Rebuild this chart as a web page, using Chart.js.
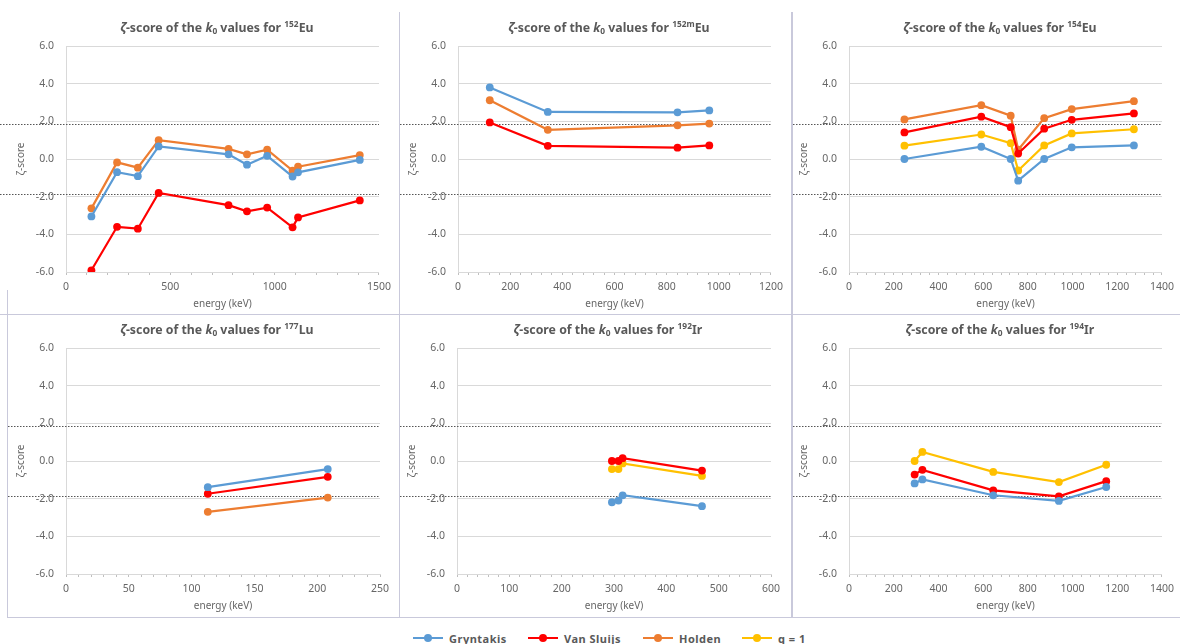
<!DOCTYPE html>
<html>
<head>
<meta charset="utf-8">
<script src="https://cdn.jsdelivr.net/npm/chart.js@4.4.1/dist/chart.umd.min.js"></script>
<style>
  html, body { margin: 0; padding: 0; background: #fff; }
  body { width: 1180px; height: 644px; position: relative; overflow: hidden; font-family: "Noto Sans", sans-serif; }
  .panel { position: absolute; width: 397px; height: 312px; }
  .panel canvas { position: absolute; left: 0; top: 0; }
  .ttl { position: absolute; left: 0; width: 434px; top: 20px; text-align: center; font-weight: bold; font-size: 12.3px; color: #595959; white-space: nowrap; line-height: 16px; }
  .ttl sub, .ttl sup { font-size: 68%; line-height: 0; }
  .ttl sub { vertical-align: -0.25em; }
  .ttl sup { vertical-align: 0.55em; }
  .rule { position: absolute; background: #c9c9db; }
  #legend { position: absolute; top: 630px; left: 0; width: 1180px; height: 16px; }
  #legend .item { position: absolute; top: 0; height: 16px; display: flex; align-items: center; }
  #legend .icon { position: relative; width: 30px; height: 16px; margin-right: 6px; }
  #legend .icon .ln { position: absolute; left: 0; top: 7px; width: 30px; height: 2px; }
  #legend .icon .dot { position: absolute; left: 11px; top: 4px; width: 8px; height: 8px; border-radius: 50%; }
  #legend .txt { font-weight: bold; font-size: 11px; color: #595959; letter-spacing: 0.5px; }
</style>
</head>
<body>

<div class="rule" style="left:398.5px; top:12px; width:1.5px; height:605px;"></div>
<div class="rule" style="left:791px; top:12px; width:1.5px; height:605px;"></div>
<div class="rule" style="left:0; top:313.5px; width:1180px; height:1.5px;"></div>
<div class="rule" style="left:7px; top:616.5px; width:1173px; height:1.5px;"></div>
<div class="rule" style="left:6.5px; top:290px; width:1.5px; height:328px;"></div>

<div class="panel" style="left:0px; top:0px;">
  <canvas id="c1" width="397" height="312"></canvas>
  <div class="ttl"><i>ζ</i>-score of the <i>k</i><sub>0</sub> values for <sup>152</sup>Eu</div>
</div>
<div class="panel" style="left:392px; top:0px;">
  <canvas id="c2" width="397" height="312"></canvas>
  <div class="ttl"><i>ζ</i>-score of the <i>k</i><sub>0</sub> values for <sup>152m</sup>Eu</div>
</div>
<div class="panel" style="left:783px; top:0px;">
  <canvas id="c3" width="397" height="312"></canvas>
  <div class="ttl"><i>ζ</i>-score of the <i>k</i><sub>0</sub> values for <sup>154</sup>Eu</div>
</div>
<div class="panel" style="left:0px; top:302px;">
  <canvas id="c4" width="397" height="312"></canvas>
  <div class="ttl"><i>ζ</i>-score of the <i>k</i><sub>0</sub> values for <sup>177</sup>Lu</div>
</div>
<div class="panel" style="left:391px; top:302px;">
  <canvas id="c5" width="397" height="312"></canvas>
  <div class="ttl"><i>ζ</i>-score of the <i>k</i><sub>0</sub> values for <sup>192</sup>Ir</div>
</div>
<div class="panel" style="left:783px; top:302px;">
  <canvas id="c6" width="397" height="312"></canvas>
  <div class="ttl"><i>ζ</i>-score of the <i>k</i><sub>0</sub> values for <sup>194</sup>Ir</div>
</div>

<div id="legend"></div>

<script>
// zeta-score acceptance band (dotted lines)
const zetaLimits = [1.86, -1.86];

// 152Eu
const eu152Energy    = [121.8, 244.7, 344.3, 444.0, 778.9, 867.4, 964.1, 1085.8, 1112.1, 1408.0];
const eu152Gryntakis = [-3.05, -0.70, -0.91, 0.67, 0.25, -0.30, 0.17, -0.93, -0.71, -0.05];
const eu152VanSluijs = [-5.91, -3.60, -3.70, -1.80, -2.45, -2.78, -2.58, -3.63, -3.10, -2.20];
const eu152Holden    = [-2.62, -0.18, -0.46, 1.00, 0.54, 0.25, 0.49, -0.62, -0.41, 0.21];

// 152mEu
const eu152mEnergy    = [121.8, 344.3, 841.6, 963.4];
const eu152mGryntakis = [3.80, 2.50, 2.48, 2.58];
const eu152mVanSluijs = [1.94, 0.70, 0.60, 0.72];
const eu152mHolden    = [3.12, 1.55, 1.79, 1.88];

// 154Eu
const eu154Energy    = [247.9, 591.8, 723.3, 756.8, 873.2, 996.3, 1274.4];
const eu154Gryntakis = [0.00, 0.65, 0.00, -1.15, 0.00, 0.62, 0.72];
const eu154VanSluijs = [1.41, 2.25, 1.69, 0.29, 1.61, 2.08, 2.42];
const eu154Holden    = [2.10, 2.86, 2.30, 0.49, 2.17, 2.65, 3.07];
const eu154Q1        = [0.71, 1.30, 0.84, -0.61, 0.72, 1.36, 1.58];

// 177Lu
const lu177Energy    = [112.9, 208.4];
const lu177Gryntakis = [-1.39, -0.43];
const lu177VanSluijs = [-1.74, -0.84];
const lu177Holden    = [-2.70, -1.94];

// 192Ir
const ir192Energy    = [296.0, 308.5, 316.5, 468.1];
const ir192Gryntakis = [-2.19, -2.10, -1.82, -2.40];
const ir192VanSluijs = [0.00, 0.00, 0.15, -0.51];
const ir192Q1        = [-0.43, -0.43, -0.13, -0.79];

// 194Ir
const ir194Energy    = [293.5, 328.4, 645.2, 938.7, 1150.6];
const ir194Gryntakis = [-1.19, -0.98, -1.82, -2.12, -1.38];
const ir194VanSluijs = [-0.72, -0.47, -1.56, -1.88, -1.07];
const ir194Q1        = [0.00, 0.48, -0.58, -1.12, -0.20];

const series = {
  gryntakis: { label: 'Gryntakis', color: '#5b9bd5' },
  vanSluijs: { label: 'Van Sluijs', color: '#ff0000' },
  holden:    { label: 'Holden',     color: '#ed7d31' },
  q1:        { label: 'q = 1',      color: '#ffc000' },
};

const panels = [
  { id: 'c1', xMax: 1500, xStep: 500, lineStart: 0,  energy: eu152Energy,
    data: { gryntakis: eu152Gryntakis, vanSluijs: eu152VanSluijs, holden: eu152Holden } },
  { id: 'c2', xMax: 1200, xStep: 200, lineStart: 8,  energy: eu152mEnergy,
    data: { gryntakis: eu152mGryntakis, vanSluijs: eu152mVanSluijs, holden: eu152mHolden } },
  { id: 'c3', xMax: 1400, xStep: 200, lineStart: 10, energy: eu154Energy,
    data: { gryntakis: eu154Gryntakis, vanSluijs: eu154VanSluijs, holden: eu154Holden, q1: eu154Q1 } },
  { id: 'c4', xMax: 250, xStep: 50, lineStart: 8, energy: lu177Energy,
    data: { gryntakis: lu177Gryntakis, vanSluijs: lu177VanSluijs, holden: lu177Holden } },
  { id: 'c5', xMax: 600, xStep: 100, lineStart: 9, energy: ir192Energy,
    data: { gryntakis: ir192Gryntakis, vanSluijs: ir192VanSluijs, q1: ir192Q1 } },
  { id: 'c6', xMax: 1400, xStep: 200, lineStart: 10, energy: ir194Energy,
    data: { gryntakis: ir194Gryntakis, vanSluijs: ir194VanSluijs, q1: ir194Q1 } },
];

// dotted +/- limit lines, running from the panel edge to the right end of the plot
const limitLines = {
  id: 'limitLines',
  beforeDatasetsDraw(chart, args, opts) {
    const { ctx, chartArea, scales: { y } } = chart;
    ctx.save();
    ctx.strokeStyle = '#555555';
    ctx.lineWidth = 1;
    ctx.setLineDash([1.5, 1.5]);
    zetaLimits.forEach((v) => {
      const py = Math.round(y.getPixelForValue(v)) + 0.5;
      ctx.beginPath();
      ctx.moveTo(opts.start || 0, py);
      ctx.lineTo(chartArea.right, py);
      ctx.stroke();
    });
    ctx.restore();
  }
};

const gray = '#666666';

function makePanel(p) {
  const datasets = Object.keys(p.data).map((key) => {
    const s = series[key];
    return {
      label: s.label,
      data: p.energy.map((e, i) => ({ x: e, y: p.data[key][i] })),
      borderColor: s.color,
      backgroundColor: s.color,
      borderWidth: 2.2,
      pointRadius: 3.9,
      pointBorderWidth: 0,
      tension: 0,
    };
  });
  return new Chart(document.getElementById(p.id).getContext('2d'), {
    type: 'line',
    data: { datasets },
    plugins: [limitLines],
    options: {
      animation: false,
      responsive: false,
      devicePixelRatio: 1,
      layout: { padding: { top: 46, right: 17, left: 0, bottom: 0 } },
      scales: {
        x: {
          type: 'linear', min: 0, max: p.xMax,
          grid: { drawOnChartArea: false, drawTicks: true, tickLength: 3, color: '#bfbfbf' },
          border: { color: '#d9d9d9', width: 1 },
          ticks: {
            stepSize: p.xStep / 5, autoSkip: false, maxRotation: 0, padding: 6,
            color: gray, font: { size: 10.5, family: 'Noto Sans' },
            callback: (v) => (v % p.xStep === 0 ? String(v) : ''),
          },
          title: { display: true, text: 'energy (keV)', color: gray, font: { size: 10, family: 'Noto Sans' }, padding: { top: 0, bottom: 2 } },
          afterFit: (s) => { s.height = 40; },
        },
        y: {
          min: -6, max: 6,
          grid: { color: '#d9d9d9', drawTicks: false },
          border: { color: '#d9d9d9', width: 1 },
          ticks: {
            stepSize: 2, padding: 12, color: gray, font: { size: 10.5, family: 'Noto Sans' },
            callback: (v) => v.toFixed(1),
          },
          title: { display: true, text: 'ζ-score', color: gray, font: { size: 10, family: 'Noto Sans' }, padding: { top: 15, bottom: 0 } },
          afterFit: (s) => { s.width = 66; },
        },
      },
      plugins: {
        legend: { display: false },
        tooltip: { enabled: false },
        limitLines: { start: p.lineStart },
      },
    },
  });
}

panels.forEach(makePanel);

// shared legend below the panels
const legendBox = document.getElementById('legend');
const legendLeft = [413, 528, 643, 742];
Object.keys(series).forEach((key, i) => {
  const s = series[key];
  const item = document.createElement('div');
  item.className = 'item';
  item.style.left = legendLeft[i] + 'px';
  const icon = document.createElement('span');
  icon.className = 'icon';
  const ln = document.createElement('span');
  ln.className = 'ln';
  ln.style.background = s.color;
  const dot = document.createElement('span');
  dot.className = 'dot';
  dot.style.background = s.color;
  icon.appendChild(ln);
  icon.appendChild(dot);
  const txt = document.createElement('span');
  txt.className = 'txt';
  txt.textContent = s.label;
  item.appendChild(icon);
  item.appendChild(txt);
  legendBox.appendChild(item);
});
</script>
</body>
</html>
